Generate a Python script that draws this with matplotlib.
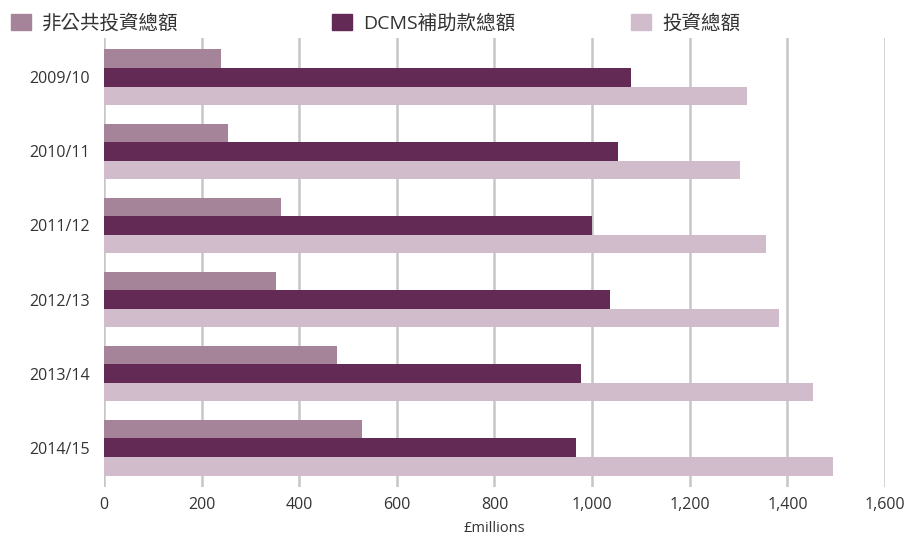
import numpy as np
import matplotlib
matplotlib.use('Agg')
import matplotlib.pyplot as plt
from matplotlib.patches import Patch

plt.rcParams['font.family'] = ['Open Sans', 'Noto Sans CJK TC', 'DejaVu Sans']

years = ['2009/10', '2010/11', '2011/12', '2012/13', '2013/14', '2014/15']
non_public = [240, 254, 363, 352, 477, 529]
dcms_grant = [1080, 1053, 1000, 1037, 977, 967]
total_inv = [1318, 1303, 1357, 1383, 1453, 1494]
series_names = ['非公共投資總額', 'DCMS補助款總額', '投資總額']
colors = ['#a58499', '#632a55', '#d0bccb']
xticks = [0, 200, 400, 600, 800, 1000, 1200, 1400, 1600]

fig = plt.figure(figsize=(9.12, 5.39), dpi=100)
ax = fig.add_axes([104 / 912, 52 / 539, 781 / 912, 449 / 539])

y = np.arange(len(years))
h = 0.25
for off, vals, c in zip([-h, 0, h], [non_public, dcms_grant, total_inv], colors):
    ax.barh(y + off, vals, height=h, color=c, zorder=3)

ax.set_ylim(len(years) - 0.47, -0.53)
ax.set_xlim(0, 1600)
ax.set_yticks(y)
ax.set_yticklabels(years, fontsize=11.5, color='#333333')
ax.set_xticks(xticks)
ax.set_xticklabels([f'{v:,}' for v in xticks], fontsize=11.5, color='#333333')
ax.tick_params(length=0, pad=7)
ax.tick_params(axis='y', pad=10)
ax.xaxis.grid(True, color='#c6c6c6', linewidth=1.8, zorder=0)
ax.set_axisbelow(True)
for s in ax.spines.values():
    s.set_visible(False)
ax.set_xlabel('£millions', fontsize=10.5, color='#333333', labelpad=6)

# legend entries placed along the top
for c, name, x0 in zip(colors, series_names, [12, 333, 632]):
    fig.legend([Patch(color=c)], [name], loc='center left',
               bbox_to_anchor=(x0 / 912 - 0.02, 1 - 23 / 539), frameon=False,
               fontsize=14, handlelength=1.0, handleheight=0.9,
               handletextpad=0.6, labelcolor='#333333')

fig.savefig('out.png', dpi=100)
